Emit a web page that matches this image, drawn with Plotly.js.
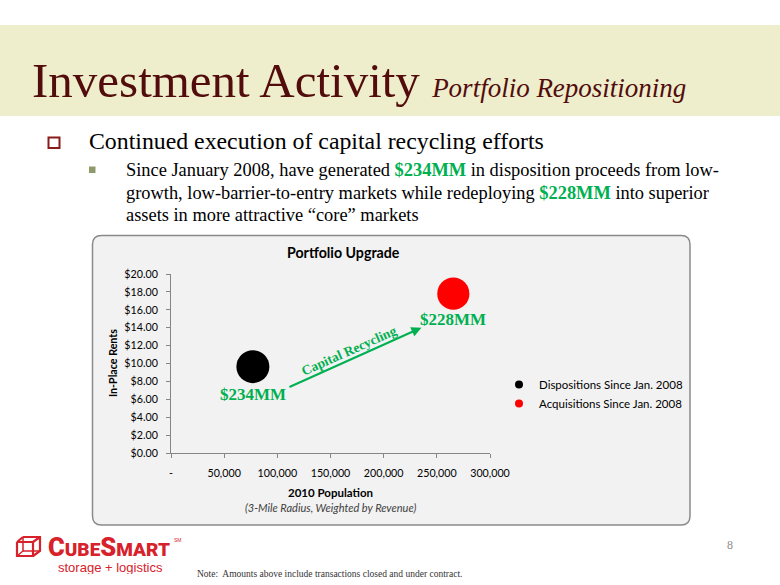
<!DOCTYPE html>
<html>
<head>
<meta charset="utf-8">
<script src="https://cdn.plot.ly/plotly-3.0.1.min.js"></script>
<style>
  html, body { margin: 0; padding: 0; background: #ffffff; }
  #chart { width: 780px; height: 585px; }
</style>
</head>
<body>
<div id="chart"></div>
<script>
// ---- Data ----
const seriesNames = ["Dispositions Since Jan. 2008", "Acquisitions Since Jan. 2008"];
const dispPopulation = [77000];
const dispRent = [9.65];
const dispAmountMM = [234];
const acqPopulation = [265500];
const acqRent = [17.8];
const acqAmountMM = [228];
const xTickVals = [0, 50000, 100000, 150000, 200000, 250000, 300000];
const xTickText = ["-", "50,000", "100,000", "150,000", "200,000", "250,000", "300,000"];
const yTickVals = [0, 2, 4, 6, 8, 10, 12, 14, 16, 18, 20];
const yTickText = ["$0.00", "$2.00", "$4.00", "$6.00", "$8.00", "$10.00", "$12.00", "$14.00", "$16.00", "$18.00", "$20.00"];

// ---- Layout helpers (pixel -> paper) ----
const L = 171, R = 490, T = 274, B = 453;
const px = x => (x - L) / (R - L);
const py = y => (B - y) / (B - T);

const GREEN = "#00B050";
const SERIF = "Liberation Serif, Times New Roman, serif";
const SANS = "Lato, Carlito, Calibri, sans-serif";
const ARIAL = "Liberation Sans, Arial, sans-serif";
const RED = "#D7212B";

function roundRect(x0, y0, x1, y1, r) {
  const rx = r / (R - L), ry = r / (B - T);
  const a = px(x0), b = px(x1), t = py(y0), u = py(y1);
  return `M ${a + rx},${t} L ${b - rx},${t} Q ${b},${t} ${b},${t - ry} L ${b},${u + ry} Q ${b},${u} ${b - rx},${u} ` +
         `L ${a + rx},${u} Q ${a},${u} ${a},${u + ry} L ${a},${t - ry} Q ${a},${t} ${a + rx},${t} Z`;
}
function pline(pts) {
  return pts.map((p, i) => (i ? "L " : "M ") + px(p[0]) + "," + py(p[1])).join(" ");
}

const sizeRef = 234 / 33;

const traces = [
  {
    type: "scatter", mode: "markers", x: dispPopulation, y: dispRent,
    marker: { size: dispAmountMM, sizemode: "diameter", sizeref: sizeRef, color: "#000000", opacity: 1, line: { width: 0 } },
    showlegend: false, hoverinfo: "skip", cliponaxis: false
  },
  {
    type: "scatter", mode: "markers", x: acqPopulation, y: acqRent,
    marker: { size: acqAmountMM, sizemode: "diameter", sizeref: sizeRef, color: "#FF0000", opacity: 1, line: { width: 0 } },
    showlegend: false, hoverinfo: "skip", cliponaxis: false
  },
  { type: "scatter", mode: "markers", x: [null], y: [null], name: seriesNames[0],
    marker: { size: 8, color: "#000000" }, showlegend: true },
  { type: "scatter", mode: "markers", x: [null], y: [null], name: seriesNames[1],
    marker: { size: 8, color: "#FF0000" }, showlegend: true }
];

const shapes = [
  // beige title band
  { type: "rect", xref: "paper", yref: "paper", x0: px(0), x1: px(780), y0: py(25), y1: py(116),
    fillcolor: "#EEEDCC", line: { width: 0 }, layer: "below" },
  // chart box
  { type: "path", xref: "paper", yref: "paper", path: roundRect(92.5, 235.5, 690, 525, 9),
    fillcolor: "#F2F2F2", line: { color: "#8A8A8A", width: 1.5 }, layer: "below" },
  // main bullet (outlined square)
  { type: "rect", xref: "paper", yref: "paper", x0: px(48.5), x1: px(59.5), y0: py(137.5), y1: py(148),
    fillcolor: "rgba(0,0,0,0)", line: { color: "#8B1A1A", width: 2 } },
  // sub bullet (filled square)
  { type: "rect", xref: "paper", yref: "paper", x0: px(89), x1: px(95.5), y0: py(166.5), y1: py(173),
    fillcolor: "#8E9A6C", line: { width: 0 } },
  // logo cube icon
  { type: "path", xref: "paper", yref: "paper", line: { color: RED, width: 2.2 },
    path: pline([[17, 542], [33, 542], [33, 556], [17, 556], [17, 542]]) },
  { type: "path", xref: "paper", yref: "paper", line: { color: RED, width: 2.2 },
    path: pline([[23, 537], [40, 537], [40, 551], [33, 556]]) },
  { type: "path", xref: "paper", yref: "paper", line: { color: RED, width: 2.2 },
    path: pline([[17, 542], [23, 537]]) },
  { type: "path", xref: "paper", yref: "paper", line: { color: RED, width: 2.2 },
    path: pline([[33, 542], [40, 537]]) },
  { type: "path", xref: "paper", yref: "paper", line: { color: RED, width: 1.5 },
    path: pline([[23, 537], [23, 551], [17, 556]]) },
  { type: "path", xref: "paper", yref: "paper", line: { color: RED, width: 1.5 },
    path: pline([[23, 551], [40, 551]]) }
];

const ann = (x, y, text, font, extra) => Object.assign({
  xref: "paper", yref: "paper", x: px(x), y: py(y), text: text, showarrow: false,
  xanchor: "left", yanchor: "middle", font: font
}, extra || {});

const annotations = [
  // slide title
  ann(30, 80, 'Investment Activity <i><span style="font-size:27px">Portfolio Repositioning</span></i>',
      { family: SERIF, size: 49, color: "#520C0C" }),
  // bullets
  ann(87, 141, "Continued execution of capital recycling efforts", { family: SERIF, size: 23.8, color: "#000000" }),
  ann(124, 170, 'Since January 2008, have generated <b><span style="color:' + GREEN + '">$' + dispAmountMM[0] +
      'MM</span></b> in disposition proceeds from low-', { family: SERIF, size: 18.4, color: "#000000" }),
  ann(124, 193, 'growth, low-barrier-to-entry markets while redeploying <b><span style="color:' + GREEN + '">$' + acqAmountMM[0] +
      'MM</span></b> into superior', { family: SERIF, size: 18.4, color: "#000000" }),
  ann(124, 215, 'assets in more attractive \u201Ccore\u201D markets', { family: SERIF, size: 18.4, color: "#000000" }),
  // chart title
  ann(343, 252, "<b>Portfolio Upgrade</b>", { family: SANS, size: 14.2, color: "#000000" }, { xanchor: "center" }),
  // y axis title
  ann(112, 363, "<b>In-Place Rents</b>", { family: SANS, size: 10.7, color: "#000000" }, { xanchor: "center", textangle: -90 }),
  // x axis title + subtitle
  ann(330.5, 492.5, "<b>2010 Population</b>", { family: SANS, size: 11.5, color: "#000000" }, { xanchor: "center" }),
  ann(330.5, 507, "<i>(3-Mile Radius, Weighted by Revenue)</i>", { family: SANS, size: 11, color: "#404040" }, { xanchor: "center" }),
  // bubble labels
  { xref: "x", yref: "y", x: dispPopulation[0], y: dispRent[0], yshift: -28, showarrow: false,
    text: "<b>$" + dispAmountMM[0] + "MM</b>", font: { family: SERIF, size: 17, color: GREEN } },
  { xref: "x", yref: "y", x: acqPopulation[0], y: acqRent[0], yshift: -26, showarrow: false,
    text: "<b>$" + acqAmountMM[0] + "MM</b>", font: { family: SERIF, size: 17, color: GREEN } },
  // capital recycling arrow
  { xref: "x", yref: "y", axref: "x", ayref: "y", x: 235500, y: 14.0, ax: 110000, ay: 7.3,
    text: "", showarrow: true, arrowhead: 2, arrowsize: 1, arrowwidth: 2, arrowcolor: GREEN, standoff: 0, startstandoff: 0 },
  { xref: "x", yref: "y", x: 168000, y: 11.4, text: "<b>Capital Recycling</b>", showarrow: false,
    textangle: -24, font: { family: SERIF, size: 13.5, color: GREEN } },
  // footer
  ann(195, 574, "Note:  Amounts above include transactions closed and under contract.", { family: SERIF, size: 9.5, color: "#333333" }),
  ann(730, 545, "8", { family: SERIF, size: 12, color: "#8C8C8C" }, { xanchor: "center" }),
  ann(46, 546.5, 'C<span style="font-size:19px">UBE</span>S<span style="font-size:19px">MART</span>',
      { family: "Roboto, Liberation Sans, Arial, sans-serif", size: 25.5, color: RED, weight: 900 },
      { height: 20, valign: "middle" }),
  ann(172, 540, "SM", { family: ARIAL, size: 5, color: RED }),
  ann(110, 567, "storage + logistics", { family: ARIAL, size: 13, color: RED }, { xanchor: "center", height: 14 })
];

const axisCommon = {
  showgrid: false, zeroline: false, showline: true, linecolor: "#868686", linewidth: 1,
  ticks: "outside", ticklen: 4, tickcolor: "#868686", tickfont: { family: SANS, size: 10.7, color: "#000000" },
  fixedrange: true
};

const layout = {
  width: 780, height: 585,
  margin: { l: L, r: 780 - R, t: T, b: 585 - B, pad: 0 },
  paper_bgcolor: "#FFFFFF", plot_bgcolor: "rgba(0,0,0,0)",
  xaxis: Object.assign({}, axisCommon, {
    range: [0, 300000], tickmode: "array", tickvals: xTickVals, ticktext: xTickText, ticklabelstandoff: 6
  }),
  yaxis: Object.assign({}, axisCommon, {
    range: [0, 20], tickmode: "array", tickvals: yTickVals, ticktext: yTickText, ticklabelstandoff: 6
  }),
  showlegend: true,
  legend: {
    x: px(499), y: py(394), xanchor: "left", yanchor: "middle",
    bgcolor: "rgba(0,0,0,0)", font: { family: SANS, size: 11.5, color: "#000000" },
    itemclick: false, itemdoubleclick: false
  },
  shapes: shapes,
  annotations: annotations
};

Plotly.newPlot("chart", traces, layout, { displayModeBar: false, staticPlot: true });
</script>
</body>
</html>
